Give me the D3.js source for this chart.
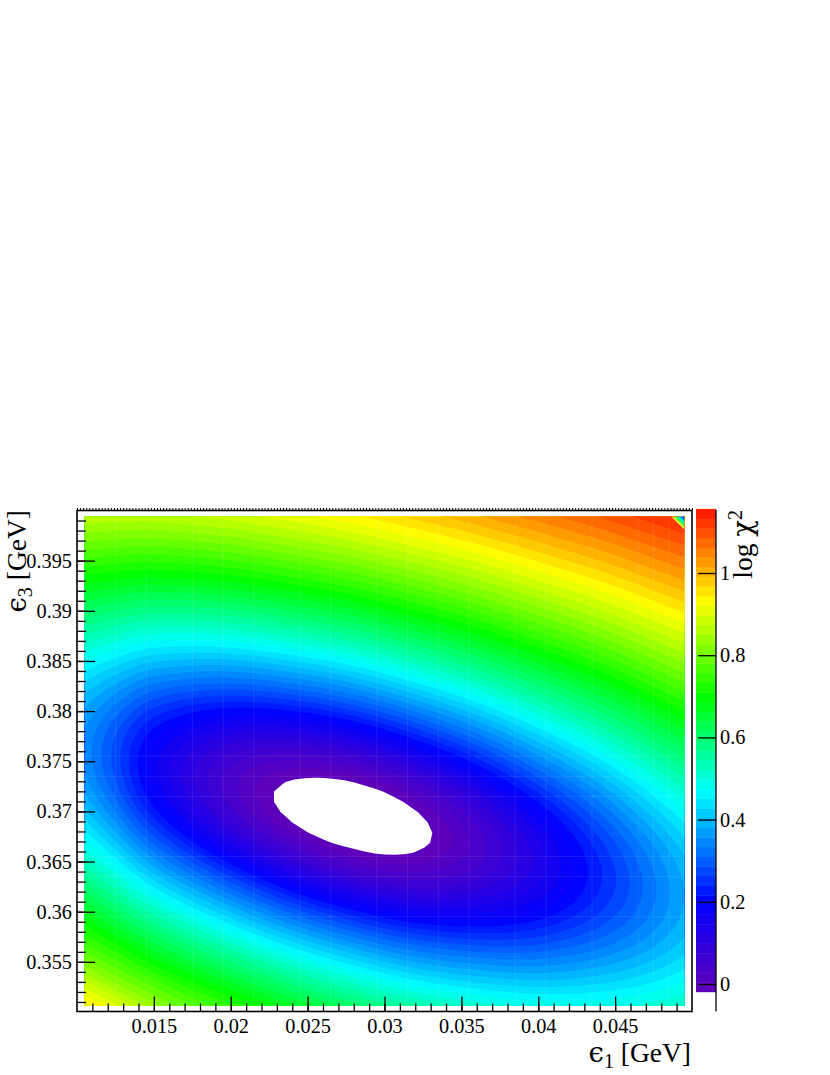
<!DOCTYPE html>
<html>
<head>
<meta charset="utf-8">
<title>log chi2 scan</title>
<script src="https://cdn.jsdelivr.net/npm/d3@7"></script>
<style>
  html, body { margin: 0; padding: 0; background: #fff; }
  svg { display: block; }
  text { font-family: "Liberation Serif", serif; fill: #000; }
</style>
</head>
<body>
<svg id="plot" width="830" height="1075"></svg>
<script>
// data *********************************************************************
// grid positions of the scan
var eps1 = [0.0105, 0.01245, 0.0144, 0.01635, 0.0183, 0.02025, 0.0222, 0.02415, 0.0261, 0.02805, 0.03,
            0.03195, 0.0339, 0.03585, 0.0378, 0.03975, 0.0417, 0.04365, 0.0456, 0.04755, 0.0495];
var eps3 = [0.3994, 0.39635, 0.3933, 0.39025, 0.3872, 0.38415, 0.3811, 0.37805, 0.375,
            0.37195, 0.3689, 0.36585, 0.3628, 0.35975, 0.3567, 0.35365, 0.3506];

// log chi2, one list per eps1 column, eps3 from top to bottom
var logChi2 = [
  [0.870, 0.788, 0.704, 0.618, 0.533, 0.455, 0.393, 0.356, 0.350, 0.378, 0.434, 0.508, 0.591, 0.677, 0.762, 0.855, 0.955],
  [0.866, 0.782, 0.693, 0.601, 0.508, 0.419, 0.344, 0.293, 0.278, 0.302, 0.359, 0.439, 0.529, 0.622, 0.714, 0.805, 0.905],
  [0.865, 0.778, 0.685, 0.587, 0.485, 0.385, 0.294, 0.226, 0.197, 0.214, 0.273, 0.359, 0.458, 0.560, 0.660, 0.756, 0.853],
  [0.870, 0.782, 0.688, 0.586, 0.479, 0.371, 0.267, 0.184, 0.138, 0.145, 0.201, 0.292, 0.397, 0.506, 0.612, 0.712, 0.805],
  [0.877, 0.789, 0.693, 0.590, 0.479, 0.364, 0.251, 0.153, 0.090, 0.084, 0.135, 0.228, 0.340, 0.455, 0.567, 0.672, 0.769],
  [0.887, 0.798, 0.703, 0.598, 0.486, 0.366, 0.245, 0.134, 0.054, 0.032, 0.075, 0.168, 0.284, 0.406, 0.523, 0.633, 0.735],
  [0.899, 0.811, 0.716, 0.612, 0.499, 0.377, 0.250, 0.128, 0.033, -0.009, 0.021, 0.110, 0.229, 0.356, 0.479, 0.594, 0.700],
  [0.913, 0.826, 0.732, 0.629, 0.516, 0.394, 0.264, 0.135, 0.025, -0.036, -0.022, 0.059, 0.178, 0.309, 0.437, 0.556, 0.665],
  [0.926, 0.841, 0.748, 0.646, 0.535, 0.413, 0.283, 0.150, 0.030, -0.047, -0.052, 0.018, 0.135, 0.268, 0.399, 0.522, 0.634],
  [0.941, 0.857, 0.766, 0.666, 0.557, 0.438, 0.309, 0.175, 0.049, -0.041, -0.064, -0.009, 0.100, 0.232, 0.365, 0.490, 0.605],
  [0.957, 0.876, 0.787, 0.690, 0.584, 0.467, 0.342, 0.210, 0.082, -0.018, -0.060, -0.023, 0.074, 0.201, 0.333, 0.459, 0.576],
  [0.975, 0.896, 0.809, 0.715, 0.613, 0.501, 0.379, 0.252, 0.126, 0.021, -0.035, -0.018, 0.063, 0.180, 0.309, 0.434, 0.551],
  [0.992, 0.915, 0.831, 0.740, 0.641, 0.533, 0.417, 0.295, 0.173, 0.068, 0.004, 0.003, 0.067, 0.172, 0.293, 0.415, 0.532],
  [1.010, 0.935, 0.853, 0.766, 0.670, 0.567, 0.456, 0.340, 0.224, 0.121, 0.051, 0.036, 0.082, 0.172, 0.284, 0.402, 0.515],
  [1.029, 0.956, 0.877, 0.793, 0.702, 0.603, 0.498, 0.388, 0.278, 0.178, 0.104, 0.078, 0.106, 0.181, 0.281, 0.392, 0.502],
  [1.048, 0.977, 0.902, 0.820, 0.733, 0.639, 0.540, 0.436, 0.332, 0.236, 0.162, 0.126, 0.140, 0.198, 0.286, 0.388, 0.492],
  [1.066, 0.998, 0.925, 0.846, 0.763, 0.674, 0.580, 0.482, 0.384, 0.293, 0.220, 0.180, 0.182, 0.225, 0.300, 0.392, 0.490],
  [1.084, 1.018, 0.948, 0.873, 0.793, 0.708, 0.619, 0.527, 0.435, 0.349, 0.279, 0.235, 0.228, 0.259, 0.320, 0.402, 0.492],
  [1.103, 1.040, 0.972, 0.900, 0.824, 0.743, 0.659, 0.573, 0.487, 0.406, 0.338, 0.292, 0.277, 0.296, 0.346, 0.416, 0.498],
  [1.123, 1.062, 0.997, 0.928, 0.855, 0.779, 0.699, 0.618, 0.538, 0.462, 0.397, 0.350, 0.330, 0.340, 0.377, 0.437, 0.509],
  [1.142, 1.082, 1.020, 0.954, 0.884, 0.812, 0.737, 0.661, 0.585, 0.514, 0.452, 0.406, 0.382, 0.385, 0.413, 0.462, 0.526]
];

// ticks
var xTicks = [0.015, 0.02, 0.025, 0.03, 0.035, 0.04, 0.045];
var xTickLabels = ["0.015", "0.02", "0.025", "0.03", "0.035", "0.04", "0.045"];
var yTicks = [0.355, 0.36, 0.365, 0.37, 0.375, 0.38, 0.385, 0.39, 0.395];
var yTickLabels = ["0.355", "0.36", "0.365", "0.37", "0.375", "0.38", "0.385", "0.39", "0.395"];
var zTicks = [0, 0.2, 0.4, 0.6, 0.8, 1];
var zTickLabels = ["0", "0.2", "0.4", "0.6", "0.8", "1"];

// colour scale range and stops
var zMin = -0.019;
var zMax = 1.156;
var nLevels = 50;
var stopValues = [-0.019, 0.2, 0.47, 0.7, 0.93, 1.156];
var stopColors = ["#6200b8", "#0000ff", "#00ffff", "#00ff00", "#ffff00", "#ff1400"];

// faint seams of the surface
var seamsEps1 = [0.0125, 0.0145, 0.0175, 0.0195, 0.0215, 0.0245, 0.0265, 0.0295, 0.0315, 0.0335, 0.0355, 0.0385, 0.0405, 0.0435, 0.0465, 0.0475, 0.0485];
var seamsEps3 = [0.3755, 0.3735, 0.3715, 0.3655, 0.3635, 0.3595];

// the wrapped colours in the top right corner, size along eps1
var cornerSizes = [0.00085, 0.00068, 0.0005, 0.00033, 0.00016];
var cornerColors = ["#e6ff33", "#33ff33", "#00ffc0", "#00a0ff", "#0000ff"];

// scales ********************************************************************
var svg = d3.select("#plot");

var xScale = d3.scaleLinear().domain([0.01, 0.05]).range([77, 692]);
var yScale = d3.scaleLinear().domain([0.35, 0.4]).range([1012, 510.5]);
var zScale = d3.scaleLinear().domain([0, 1]).range([984, 573]);
var colorOf = d3.scaleLinear().domain(stopValues).range(stopColors).interpolate(d3.interpolateRgb);

var dz = (zMax - zMin) / nLevels;
var levels = d3.range(nLevels).map(function(k) { return zMin + k * dz; });

// surface *******************************************************************
var nx = eps1.length, ny = eps3.length;

// the read values sit on a coarse grid, so the contouring is done on a finer one
// (cubic through the read values, in chi2 rather than log chi2) to keep the bands round
var refine = 3;
var fx = (nx - 1) * refine + 1, fy = (ny - 1) * refine + 1;

function cubic(p0, p1, p2, p3, t) {
  return p1 + 0.5 * t * (p2 - p0 + t * (2 * p0 - 5 * p1 + 4 * p2 - p3 + t * (3 * (p1 - p2) + p3 - p0)));
}
function chi2At(j, i) {
  // outside the grid: continue the curve from the three nearest values
  if (j < 0) return 3 * chi2At(0, i) - 3 * chi2At(1, i) + chi2At(2, i);
  if (j >= nx) return 3 * chi2At(nx - 1, i) - 3 * chi2At(nx - 2, i) + chi2At(nx - 3, i);
  if (i < 0) return 3 * chi2At(j, 0) - 3 * chi2At(j, 1) + chi2At(j, 2);
  if (i >= ny) return 3 * chi2At(j, ny - 1) - 3 * chi2At(j, ny - 2) + chi2At(j, ny - 3);
  return Math.pow(10, logChi2[j][i]);
}
function surfaceAt(gx, gy) {
  var j = Math.min(Math.floor(gx), nx - 2), i = Math.min(Math.floor(gy), ny - 2);
  var tx = gx - j, ty = gy - i;
  var rows = [-1, 0, 1, 2].map(function(di) {
    return cubic(chi2At(j - 1, i + di), chi2At(j, i + di), chi2At(j + 1, i + di), chi2At(j + 2, i + di), tx);
  });
  return Math.log10(cubic(rows[0], rows[1], rows[2], rows[3], ty));
}

var values = [];
for (var i = 0; i < fy; i++) {
  for (var j = 0; j < fx; j++) {
    values.push(surfaceAt(j / refine, i / refine));
  }
}

// d3.contours puts the grid values at index + 0.5
var gridX = d3.scaleLinear().domain([0.5, fx - 0.5]).range([xScale(eps1[0]), xScale(eps1[nx - 1])]);
var gridY = d3.scaleLinear().domain([0.5, fy - 0.5]).range([yScale(eps3[0]), yScale(eps3[ny - 1])]);
var contourPath = d3.geoPath(d3.geoTransform({
  point: function(x, y) { this.stream.point(gridX(x), gridY(y)); }
}));

svg.append("clipPath").attr("id", "dataClip").append("rect")
  .attr("x", xScale(eps1[0]))
  .attr("y", yScale(eps3[0]))
  .attr("width", xScale(eps1[nx - 1]) - xScale(eps1[0]))
  .attr("height", yScale(eps3[ny - 1]) - yScale(eps3[0]));

var surface = svg.append("g").attr("clip-path", "url(#dataClip)");

var contours = d3.contours().size([fx, fy]).thresholds(levels)(values);
surface.selectAll("path.band")
  .data(contours)
  .join("path")
  .attr("class", "band")
  .attr("d", contourPath)
  .attr("fill", function(d) { return colorOf(d.value + dz / 2); });

// seams
surface.selectAll("line.seamX")
  .data(seamsEps1)
  .join("line")
  .attr("class", "seamX")
  .attr("x1", function(d) { return xScale(d); })
  .attr("x2", function(d) { return xScale(d); })
  .attr("y1", yScale(eps3[0]))
  .attr("y2", yScale(eps3[ny - 1]))
  .style("stroke", "#fff").style("stroke-opacity", 0.09).style("stroke-width", 1);
surface.selectAll("line.seamY")
  .data(seamsEps3)
  .join("line")
  .attr("class", "seamY")
  .attr("y1", function(d) { return yScale(d); })
  .attr("y2", function(d) { return yScale(d); })
  .attr("x1", xScale(eps1[0]))
  .attr("x2", xScale(eps1[nx - 1]))
  .style("stroke", "#fff").style("stroke-opacity", 0.09).style("stroke-width", 1);

// corner triangles, same pixel size in both directions
var unitsRatio = (yScale.domain()[1] - yScale.domain()[0]) / (yScale.range()[0] - yScale.range()[1]) /
                 ((xScale.domain()[1] - xScale.domain()[0]) / (xScale.range()[1] - xScale.range()[0]));
surface.selectAll("path.corner")
  .data(cornerSizes)
  .join("path")
  .attr("class", "corner")
  .attr("d", function(s) {
    var xr = eps1[nx - 1], yt = eps3[0];
    return d3.line()([[xScale(xr - s), yScale(yt)], [xScale(xr), yScale(yt)], [xScale(xr), yScale(yt - s * unitsRatio)]]) + "Z";
  })
  .attr("fill", function(d, i) { return cornerColors[i]; });

// colour bar ****************************************************************
svg.selectAll("rect.bar")
  .data(levels)
  .join("rect")
  .attr("class", "bar")
  .attr("x", 696)
  .attr("width", 20)
  .attr("y", function(d) { return zScale(d + dz); })
  .attr("height", function(d) { return zScale(d) - zScale(d + dz) + 0.4; })
  .attr("fill", function(d) { return colorOf(d + dz / 2); });

// axes **********************************************************************
var fontTick = "20.3px";
var fontTitle = "27.5px";

function styleAxis(g) {
  g.selectAll("line").style("stroke", "#000").style("stroke-width", 1.3);
  g.selectAll("path.domain").remove();
  g.selectAll("text").style("font-size", fontTick).style("font-family", '"Liberation Serif", serif');
}

// frame
svg.append("rect")
  .attr("x", 77).attr("y", 510.5)
  .attr("width", 615).attr("height", 501)
  .style("fill", "none").style("stroke", "#000").style("stroke-width", 1.6);

// bottom
var xBottom = svg.append("g").attr("transform", "translate(0,1011.5)");
xBottom.append("g")
  .call(d3.axisBottom(xScale).tickValues(d3.range(11, 50).map(function(d) { return d / 1000; })).tickSize(-8).tickFormat(""))
  .call(styleAxis);
xBottom.append("g")
  .call(d3.axisBottom(xScale).tickValues(xTicks).tickSize(-15).tickPadding(7.2)
    .tickFormat(function(d, i) { return xTickLabels[i]; }))
  .call(styleAxis);

// left
var yLeft = svg.append("g").attr("transform", "translate(77,0)");
yLeft.append("g")
  .call(d3.axisLeft(yScale).tickValues(d3.range(351, 400).map(function(d) { return d / 1000; })).tickSize(-9).tickFormat(""))
  .call(styleAxis);
yLeft.append("g")
  .call(d3.axisLeft(yScale).tickValues(yTicks).tickSize(-18).tickPadding(5)
    .tickFormat(function(d, i) { return yTickLabels[i]; }))
  .call(styleAxis);

// the tiny ticks on top of the frame
svg.append("g").attr("transform", "translate(0,510)")
  .call(d3.axisTop(xScale).tickValues(d3.range(0, 201).map(function(d) { return 0.01 + d * 0.0002; })).tickSize(2).tickFormat(""))
  .call(styleAxis)
  .selectAll("line").style("stroke-width", 1);

// colour bar axis
var zAxisScale = d3.scaleLinear()
  .domain([zScale.invert(1011.5), zScale.invert(509)])
  .range([1011.5, 509]);
var zAxis = svg.append("g").attr("transform", "translate(716,0)");
zAxis.append("line")
  .attr("x1", 0).attr("x2", 0).attr("y1", 510).attr("y2", 1011.5)
  .style("stroke", "#000").style("stroke-width", 1.3);
zAxis.append("g")
  .call(d3.axisRight(zAxisScale).tickValues(zTicks).tickSize(-18).tickPadding(4)
    .tickFormat(function(d, i) { return zTickLabels[i]; }))
  .call(styleAxis);

// titles
function addTitle(x, y, rotate, parts, anchor) {
  var t = svg.append("text")
    .attr("transform", "translate(" + x + "," + y + ")" + (rotate ? " rotate(" + rotate + ")" : ""))
    .attr("text-anchor", anchor)
    .style("font-size", fontTitle);
  parts.forEach(function(p) {
    var s = t.append("tspan").text(p.text);
    if (p.font) s.style("font-family", p.font);
    if (p.size) s.style("font-size", p.size);
    if (p.dy) s.attr("dy", p.dy);
  });
}

var symbolFont = '"DejaVu Serif", serif';
addTitle(691, 1062, 0, [
  { text: "\u03F5", font: symbolFont },
  { text: "1", size: "20px", dy: 6 },
  { text: " [GeV]", dy: -6 }
], "end");
addTitle(26, 510, -90, [
  { text: "\u03F5", font: symbolFont },
  { text: "3", size: "20px", dy: 6 },
  { text: " [GeV]", dy: -6 }
], "end");
addTitle(752, 510, -90, [
  { text: "log " },
  { text: "\u03C7", font: symbolFont },
  { text: "2", size: "20px", dy: -10 }
], "end");
</script>
</body>
</html>
